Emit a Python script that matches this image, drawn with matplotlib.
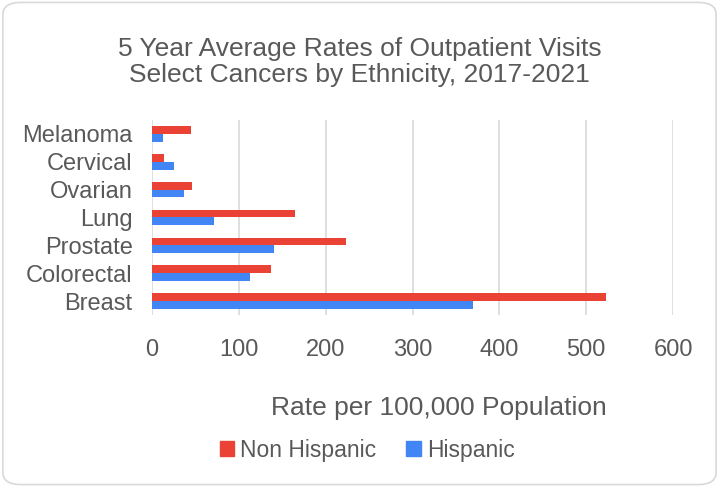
import matplotlib.pyplot as plt
import numpy as np
from matplotlib.patches import FancyBboxPatch, Patch

# Data
cancers = ["Breast", "Colorectal", "Prostate", "Lung", "Ovarian", "Cervical", "Melanoma"]
non_hispanic = [522.4, 136.9, 223.6, 164.2, 45.6, 13.4, 45.3]
hispanic = [369.8, 112.4, 140.4, 71.7, 36.8, 25.7, 12.3]
x_ticks = [0, 100, 200, 300, 400, 500, 600]

red = "#EA4335"
blue = "#4285F4"
text_col = "#595959"
grid_col = "#D9D9D9"

plt.rcParams["font.family"] = ["Liberation Sans", "DejaVu Sans"]

fig = plt.figure(figsize=(7.19, 4.87), dpi=100)
fig.patch.set_facecolor("white")

# rounded chart border
border = FancyBboxPatch((0.004, 0.005), 0.992, 0.99,
                        boxstyle="round,pad=0,rounding_size=0.025",
                        transform=fig.transFigure, facecolor="none",
                        edgecolor=grid_col, linewidth=1.2)
fig.patches.append(border)

ax = fig.add_axes([0.2114, 0.3532, 0.7247, 0.4004])

y = np.arange(len(cancers))
h = 0.28
ax.barh(y + h / 2, non_hispanic, height=h, color=red, label="Non Hispanic", zorder=3)
ax.barh(y - h / 2, hispanic, height=h, color=blue, label="Hispanic", zorder=3)

ax.set_xlim(0, 600)
ax.set_ylim(-0.5, len(cancers) - 0.5)
ax.set_xticks(x_ticks)
ax.set_yticks(y)
ax.set_yticklabels(cancers)
ax.tick_params(axis="both", length=0, colors=text_col, labelsize=17)
ax.tick_params(axis="x", pad=17)
ax.tick_params(axis="y", pad=14)
ax.grid(axis="x", color=grid_col, linewidth=1.2, zorder=0)
for s in ax.spines.values():
    s.set_visible(False)

fig.text(0.5, 0.872, "5 Year Average Rates of Outpatient Visits\nSelect Cancers by Ethnicity, 2017-2021",
         ha="center", va="center", fontsize=19, color=text_col, linespacing=1.12)

fig.text(439 / 719, 1 - 408 / 487, "Rate per 100,000 Population",
         ha="center", va="center", fontsize=19, color=text_col)

handles = [Patch(color=red, label="Non Hispanic"), Patch(color=blue, label="Hispanic")]
fig.legend(handles=handles, loc="center", bbox_to_anchor=(367 / 719, 1 - 450 / 487),
           ncol=2, frameon=False, fontsize=16.5, labelcolor=text_col,
           handlelength=0.65, handleheight=0.65, handletextpad=0.25, columnspacing=1.3)

fig.savefig("out.png", dpi=100)
